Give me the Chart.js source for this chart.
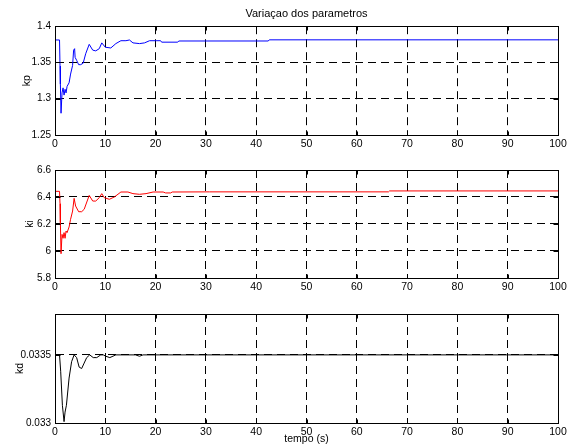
<!DOCTYPE html>
<html>
<head>
<meta charset="utf-8">
<script src="https://cdn.jsdelivr.net/npm/chart.js@4.4.1/dist/chart.umd.min.js"></script>
<style>
  body { margin: 0; background: #fff; width: 571px; height: 445px; overflow: hidden; position: relative; }
  canvas { position: absolute; left: 0; }
</style>
</head>
<body>
<canvas id="c1" width="571" height="155" style="top:0px"></canvas>
<canvas id="c2" width="571" height="145" style="top:155px"></canvas>
<canvas id="c3" width="571" height="145" style="top:300px"></canvas>
<script>
// tick labels
const xTicks = [0, 10, 20, 30, 40, 50, 60, 70, 80, 90, 100];
const kpTicks = [1.25, 1.3, 1.35, 1.4];
const kiTicks = [5.8, 6, 6.2, 6.4, 6.6];
const kdTicks = [0.033, 0.0335];

// kp (blue)
const kpTime = [0, 0.9, 1.0, 1.07, 1.2, 1.4, 1.6, 1.8, 2.0, 2.2, 2.4, 2.8, 3.1, 3.5, 3.7, 3.9, 4.0, 4.3, 4.7, 5.1, 5.6, 6.1, 6.8, 7.5, 8.1, 8.8, 9.3, 10, 11.1, 12.1, 13.1, 14.1, 14.8, 15.5, 16.8, 17.8, 18.8, 20.1, 21, 21.2, 24.4, 24.6, 42.4, 42.6, 100];
const kpValues = [1.381, 1.381, 1.345, 1.32, 1.28, 1.308, 1.315, 1.305, 1.313, 1.308, 1.317, 1.322, 1.334, 1.346, 1.367, 1.369, 1.357, 1.353, 1.347, 1.347, 1.349, 1.362, 1.375, 1.367, 1.366, 1.369, 1.377, 1.371, 1.370, 1.376, 1.380, 1.380, 1.381, 1.377, 1.376, 1.377, 1.380, 1.380, 1.380, 1.378, 1.378, 1.3796, 1.3796, 1.3812, 1.3812];

// ki (red)
const kiTime = [0, 0.9, 1.0, 1.07, 1.2, 1.4, 1.6, 1.8, 2.0, 2.2, 2.4, 2.8, 3.1, 3.5, 3.8, 4.1, 4.7, 5.3, 5.8, 6.8, 7.5, 8.1, 8.8, 9.3, 9.8, 10.8, 11.8, 13.1, 14.5, 15.5, 16.8, 18.1, 19.5, 21.5, 22, 23, 23.3, 30.7, 66.3, 66.5, 100];
const kiValues = [6.442, 6.442, 6.35, 6.21, 5.98, 6.123, 6.094, 6.136, 6.094, 6.148, 6.136, 6.178, 6.235, 6.296, 6.39, 6.333, 6.291, 6.291, 6.309, 6.412, 6.37, 6.37, 6.395, 6.425, 6.395, 6.383, 6.40, 6.437, 6.437, 6.425, 6.42, 6.425, 6.437, 6.437, 6.43, 6.43, 6.437, 6.438, 6.438, 6.445, 6.445];

// kd (black)
const kdTime = [0, 0.9, 1.13, 1.47, 1.8, 2.0, 2.27, 2.8, 3.3, 3.8, 4.3, 4.8, 5.3, 5.8, 6.3, 6.9, 7.6, 8.3, 9.1, 9.6, 10.1, 10.9, 12.1, 16, 16.8, 17.5, 100];
const kdValues = [0.0335, 0.0335, 0.03338, 0.03313, 0.03301, 0.03308, 0.03313, 0.03333, 0.03345, 0.0335, 0.03348, 0.03341, 0.0334, 0.03344, 0.03348, 0.0335, 0.03348, 0.03348, 0.0335, 0.0335, 0.03349, 0.03348, 0.0335, 0.0335, 0.03349, 0.0335, 0.0335];

Chart.defaults.font.family = "'Liberation Sans', Arial, sans-serif";
Chart.defaults.font.size = 10;
Chart.defaults.color = '#000';

// matlab style box + inward ticks
const boxPlugin = {
  id: 'box',
  afterDraw(chart) {
    const {ctx, chartArea: a, scales} = chart;
    const l = Math.round(a.left) + 0.5, r = Math.round(a.right) + 0.5;
    const t = Math.round(a.top) + 0.5, b = Math.round(a.bottom) + 0.5;
    ctx.save();
    ctx.strokeStyle = '#000';
    ctx.lineWidth = 1;
    ctx.strokeRect(l, t, r - l, b - t);
    ctx.beginPath();
    scales.x.ticks.forEach(tk => {
      const px = Math.round(scales.x.getPixelForValue(tk.value)) + 0.5;
      ctx.moveTo(px, t); ctx.lineTo(px, t + 4);
      ctx.moveTo(px, b); ctx.lineTo(px, b - 4);
    });
    scales.y.ticks.forEach(tk => {
      const py = Math.round(scales.y.getPixelForValue(tk.value)) + 0.5;
      ctx.moveTo(l, py); ctx.lineTo(l + 5, py);
      ctx.moveTo(r, py); ctx.lineTo(r - 5, py);
    });
    ctx.stroke();
    ctx.restore();
  }
};

const fmt = v => String(Number(v.toFixed(5)));

function makeChart(id, o) {
  return new Chart(document.getElementById(id).getContext('2d'), {
    type: 'line',
    data: {
      datasets: [{
        data: o.time.map((t, i) => ({x: t, y: o.values[i]})),
        borderColor: o.color,
        borderWidth: 1,
        pointRadius: 0,
        fill: false,
        tension: 0
      }]
    },
    options: {
      responsive: false,
      animation: false,
      layout: {padding: {top: o.padTop, right: 13, left: 0, bottom: 0}},
      plugins: {
        legend: {display: false},
        tooltip: {enabled: false},
        title: {
          display: !!o.title,
          text: o.title || '',
          fullSize: false,
          color: '#000',
          font: {size: 11, weight: 'normal'},
          padding: {top: 7, bottom: 6}
        }
      },
      scales: {
        x: {
          type: 'linear',
          min: 0, max: 100,
          afterBuildTicks: s => { s.ticks = xTicks.map(v => ({value: v})); },
          afterFit: s => { s.height = o.xHeight; },
          grid: {color: '#000', drawTicks: false, lineWidth: 1},
          border: {display: true, color: '#000', dash: [8, 5]},
          ticks: {padding: 3, maxRotation: 0, color: '#000', font: {size: 10.5}},
          title: {display: !!o.xTitle, text: o.xTitle || '', color: '#000', font: {size: 10.5}, padding: {top: 0, bottom: 0}}
        },
        y: {
          type: 'linear',
          min: o.min, max: o.max,
          afterBuildTicks: s => { s.ticks = o.ticks.map(v => ({value: v})); },
          afterFit: s => { s.width = 55; },
          grid: {color: '#000', drawTicks: false, lineWidth: 1},
          border: {display: true, color: '#000', dash: [8, 5]},
          ticks: {padding: 4, callback: fmt, color: '#000'},
          title: {display: true, text: o.yTitle, color: '#000', font: {size: 10.5}, padding: {top: o.yTitlePad, bottom: 0}}
        }
      }
    },
    plugins: [boxPlugin]
  });
}

makeChart('c1', {time: kpTime, values: kpValues, color: '#0000ff', min: 1.25, max: 1.4, ticks: kpTicks,
  yTitle: 'kp', yTitlePad: 21, title: 'Variaçao dos parametros', padTop: 0, xHeight: 20});
makeChart('c2', {time: kiTime, values: kiValues, color: '#ff0000', min: 5.8, max: 6.6, ticks: kiTicks,
  yTitle: 'ki', yTitlePad: 24, padTop: 15, xHeight: 22});
makeChart('c3', {time: kdTime, values: kdValues, color: '#000000', min: 0.033, max: 0.0338, ticks: kdTicks,
  yTitle: 'kd', yTitlePad: 14, padTop: 14, xHeight: 22, xTitle: 'tempo (s)'});
</script>
</body>
</html>
